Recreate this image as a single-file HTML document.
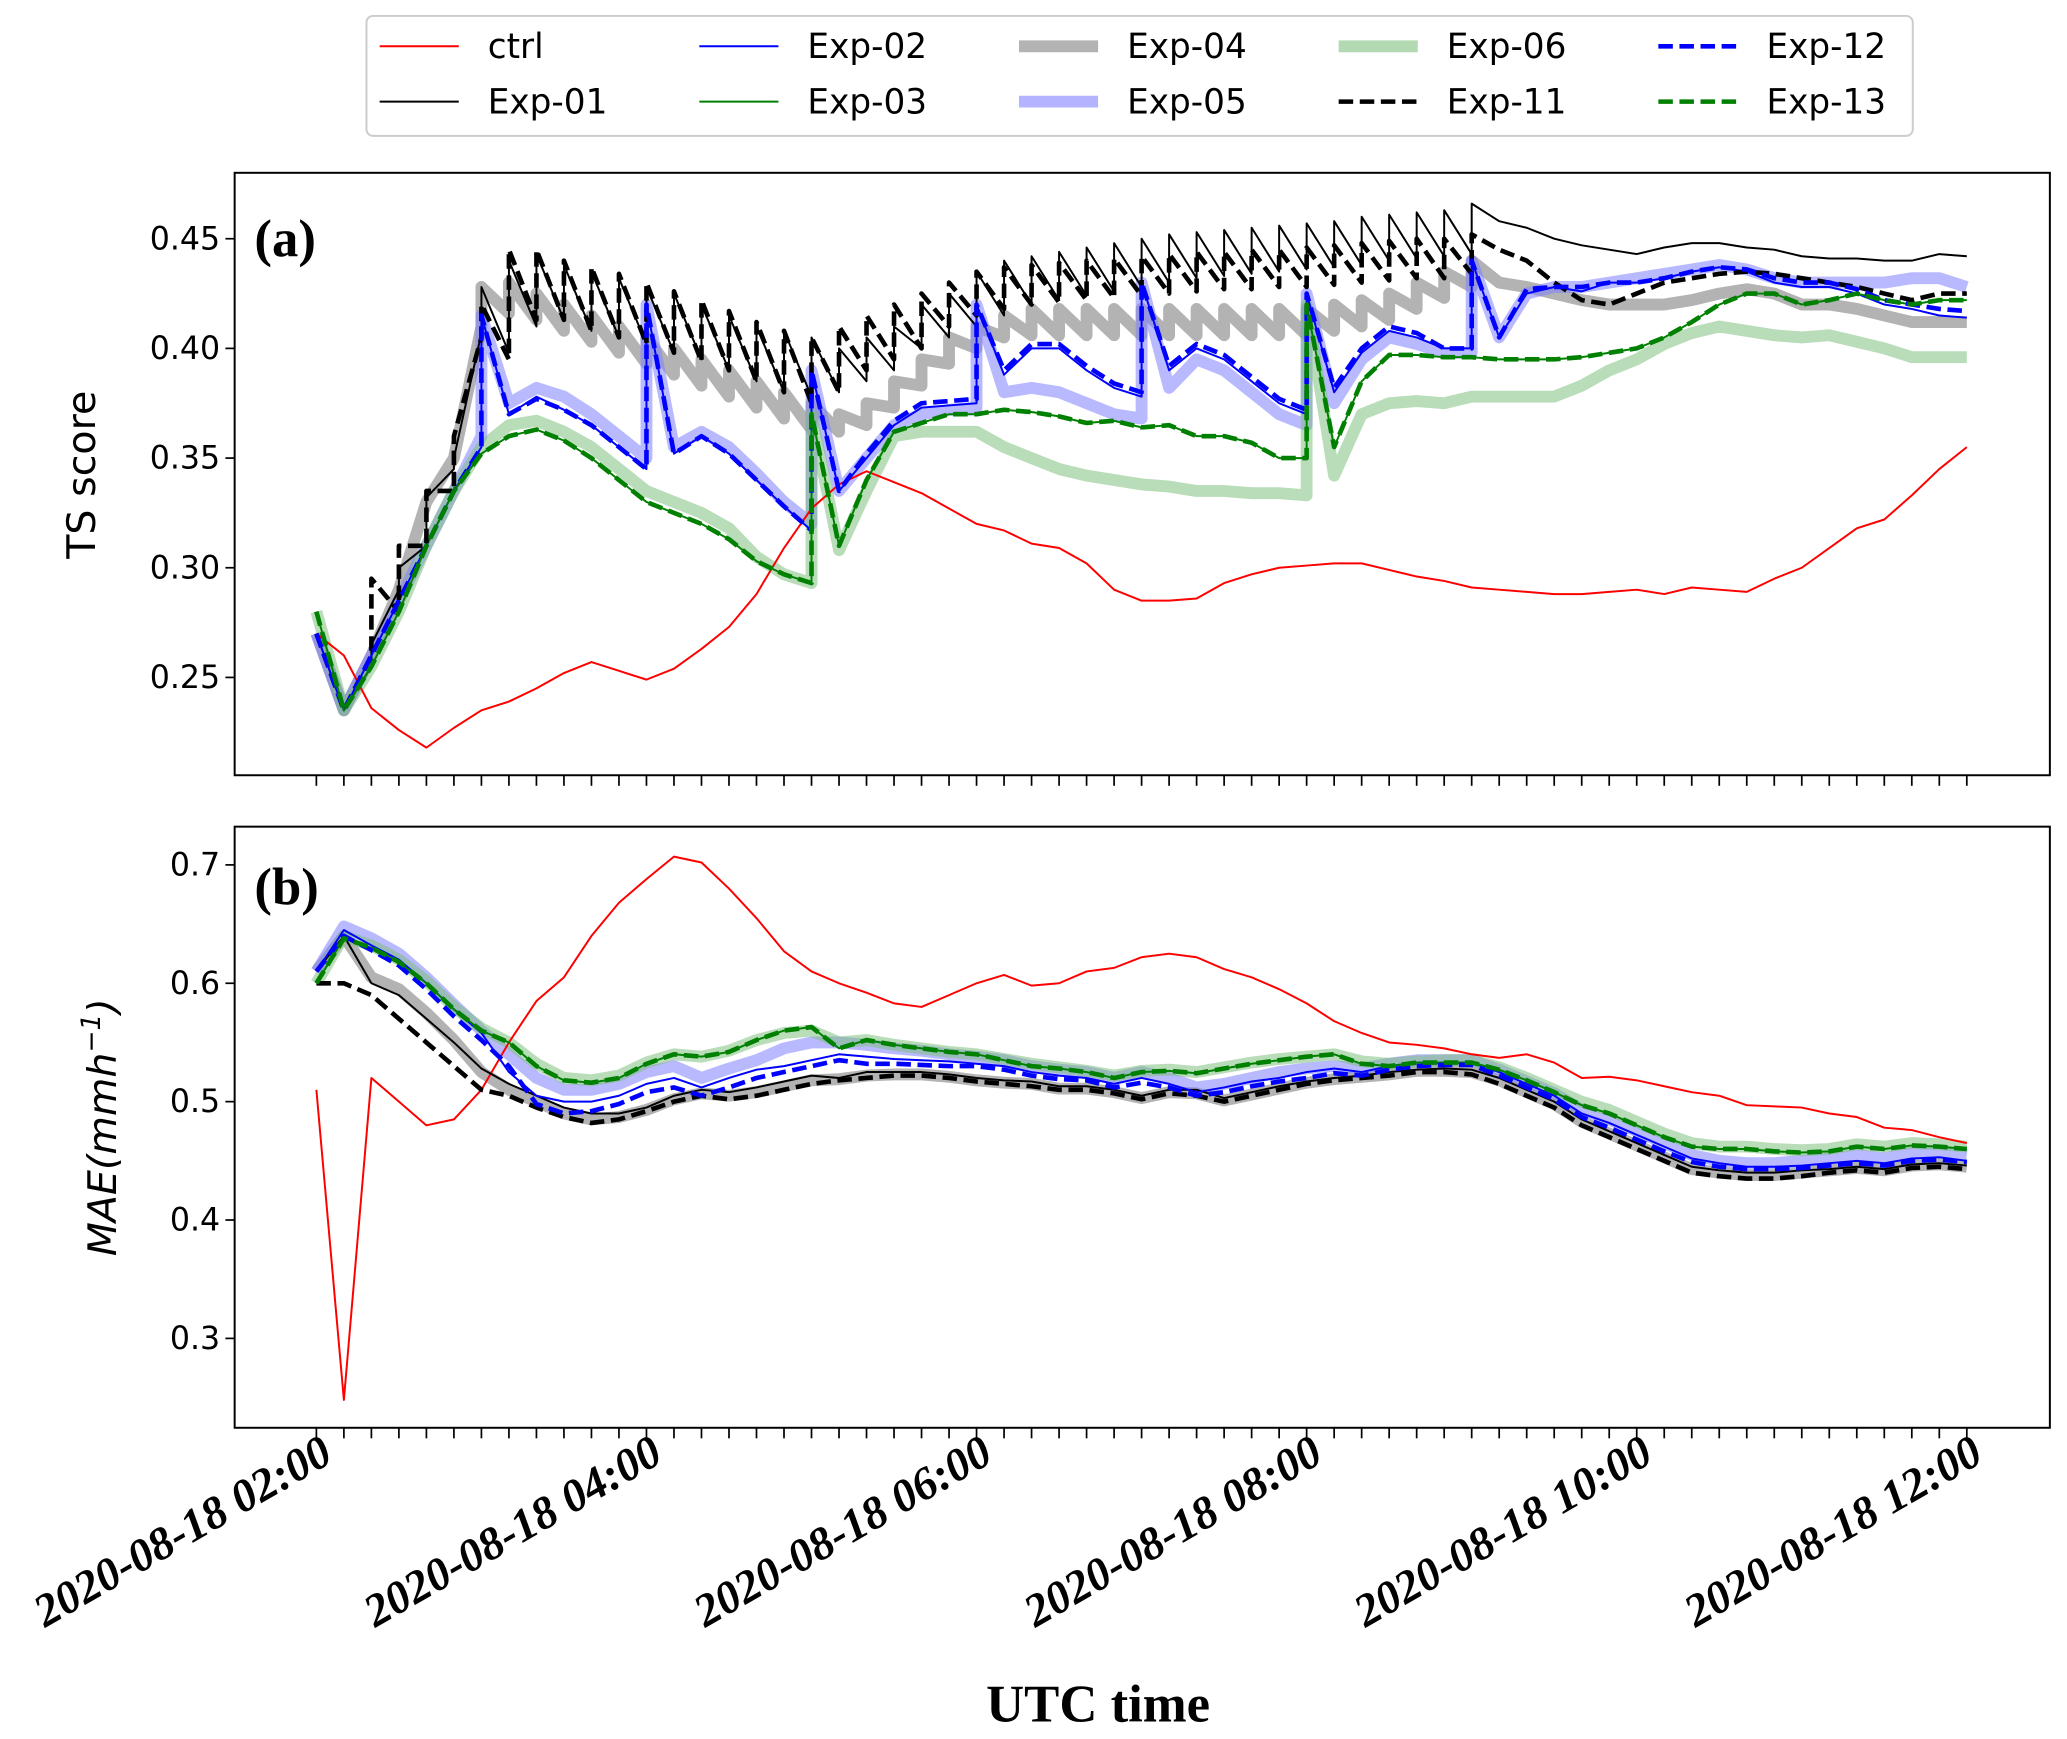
<!DOCTYPE html>
<html><head><meta charset="utf-8"><style>html,body{margin:0;padding:0;background:#fff}svg{display:block}</style></head>
<body>
<svg id="chart" width="2067" height="1739" viewBox="0 0 1568 1319" xmlns="http://www.w3.org/2000/svg" font-family="DejaVu Sans, Liberation Sans, sans-serif"></svg>
<script>
const timeLabels=["2020-08-18 02:00","2020-08-18 04:00","2020-08-18 06:00","2020-08-18 08:00","2020-08-18 10:00","2020-08-18 12:00"];
const tsTicks=[0.25,0.30,0.35,0.40,0.45];
const maeTicks=[0.3,0.4,0.5,0.6,0.7];
// Panel a: TS score (lo = value arriving at step, hi = value after update)
const aCtrl=[.27,.26,.236,.226,.218,.227,.235,.239,.245,.252,.257,.253,.249,.254,.263,.273,.288,.309,.327,.338,.344,.339,.334,.327,.320,.317,.311,.309,.302,.29,.285,.285,.286,.293,.297,.300,.301,.302,.302,.299,.296,.294,.291,.290,.289,.288,.288,.289,.290,.288,.291,.290,.289,.295,.300,.309,.318,.322,.333,.345,.355];
const a01hi=[.27,.235,.265,.30,.332,.35,.428,.44,.443,.438,.435,.432,.428,.425,.42,.415,.41,.408,.405,.40,.405,.41,.42,.425,.435,.44,.442,.444,.446,.448,.45,.452,.453,.454,.455,.456,.457,.458,.46,.461,.462,.463,.466,.458,.455,.45,.447,.445,.443,.446,.448,.448,.446,.445,.442,.441,.441,.44,.44,.443,.442];
const a01lo=[.27,.235,.255,.29,.31,.345,.407,.398,.41,.413,.408,.405,.402,.398,.395,.39,.385,.38,.378,.38,.385,.39,.40,.405,.41,.415,.42,.422,.424,.426,.428,.43,.432,.433,.434,.435,.436,.437,.438,.44,.441,.442,.443,.458,.455,.45,.447,.445,.443,.446,.448,.448,.446,.445,.442,.441,.441,.44,.44,.443,.442];
const a11hi=[.27,.235,.295,.31,.335,.36,.42,.445,.445,.44,.437,.434,.43,.426,.422,.417,.412,.408,.405,.41,.415,.42,.425,.43,.435,.437,.438,.439,.44,.441,.442,.443,.444,.444,.445,.445,.446,.447,.448,.449,.45,.45,.452,.445,.44,.43,.422,.42,.425,.43,.432,.434,.435,.434,.432,.43,.428,.425,.422,.425,.425];
const a11lo=[.27,.235,.26,.28,.31,.335,.405,.395,.413,.413,.408,.405,.402,.398,.394,.39,.385,.38,.375,.38,.39,.395,.40,.41,.415,.418,.42,.421,.422,.423,.424,.425,.426,.427,.427,.428,.428,.429,.43,.431,.432,.432,.434,.445,.44,.43,.422,.42,.425,.43,.432,.434,.435,.434,.432,.43,.428,.425,.422,.425,.425];
const a04hi=[.27,.235,.26,.29,.33,.35,.428,.43,.425,.42,.415,.41,.405,.40,.395,.39,.385,.38,.375,.37,.375,.385,.395,.405,.41,.415,.418,.418,.418,.418,.418,.418,.418,.418,.418,.418,.418,.42,.422,.425,.43,.435,.44,.43,.428,.425,.422,.42,.42,.42,.422,.425,.427,.425,.42,.42,.418,.415,.412,.412,.412];
const a04lo=[.27,.235,.26,.29,.33,.35,.41,.416,.413,.408,.403,.398,.393,.388,.383,.378,.373,.368,.363,.362,.365,.373,.383,.393,.40,.405,.406,.406,.406,.406,.406,.406,.406,.406,.406,.406,.406,.408,.41,.413,.418,.423,.428,.43,.428,.425,.422,.42,.42,.42,.422,.425,.427,.425,.42,.42,.418,.415,.412,.412,.412];
const a02lo=[.27,.235,.26,.285,.31,.335,.355,.37,.378,.372,.365,.355,.345,.352,.36,.352,.34,.328,.317,.335,.35,.365,.373,.374,.375,.388,.40,.40,.39,.382,.378,.39,.40,.395,.385,.375,.37,.38,.398,.408,.405,.40,.40,.405,.425,.428,.426,.43,.43,.432,.435,.437,.435,.43,.428,.428,.425,.42,.418,.415,.414];
const a02hi=[.27,.235,.26,.285,.31,.335,.415,.37,.378,.372,.365,.355,.42,.352,.36,.352,.34,.328,.39,.335,.35,.365,.373,.374,.42,.388,.40,.40,.39,.382,.43,.39,.40,.395,.385,.375,.425,.38,.398,.408,.405,.40,.44,.405,.425,.428,.426,.43,.43,.432,.435,.437,.435,.43,.428,.428,.425,.42,.418,.415,.414];
const a05lo=[.27,.235,.26,.285,.31,.335,.36,.375,.382,.378,.37,.36,.35,.355,.362,.355,.343,.33,.32,.335,.35,.365,.37,.372,.373,.38,.382,.38,.375,.37,.368,.382,.395,.39,.38,.37,.365,.375,.395,.405,.402,.398,.398,.405,.425,.428,.428,.43,.432,.434,.436,.438,.436,.432,.43,.43,.43,.43,.432,.432,.428];
const a05hi=[.27,.235,.26,.285,.31,.335,.415,.375,.382,.378,.37,.36,.42,.355,.362,.355,.343,.33,.39,.335,.35,.365,.37,.372,.42,.38,.382,.38,.375,.37,.43,.382,.395,.39,.38,.37,.425,.375,.395,.405,.402,.398,.44,.405,.425,.428,.428,.43,.432,.434,.436,.438,.436,.432,.43,.43,.43,.43,.432,.432,.428];
const a12lo=[.27,.235,.26,.285,.31,.335,.355,.37,.377,.372,.365,.355,.345,.352,.36,.352,.34,.328,.317,.335,.352,.367,.375,.376,.377,.39,.402,.402,.392,.384,.38,.392,.402,.397,.387,.377,.372,.382,.4,.41,.407,.40,.40,.405,.427,.428,.428,.43,.43,.432,.435,.437,.436,.432,.43,.43,.427,.422,.42,.418,.417];
const a12hi=[.27,.235,.26,.285,.31,.335,.415,.37,.377,.372,.365,.355,.42,.352,.36,.352,.34,.328,.39,.335,.352,.367,.375,.376,.42,.39,.402,.402,.392,.384,.43,.392,.402,.397,.387,.377,.425,.382,.4,.41,.407,.40,.44,.405,.427,.428,.428,.43,.43,.432,.435,.437,.436,.432,.43,.43,.427,.422,.42,.418,.417];
const a06lo=[.28,.235,.255,.28,.31,.335,.355,.365,.367,.362,.355,.345,.335,.33,.325,.318,.305,.297,.293,.308,.335,.36,.362,.362,.362,.355,.35,.345,.342,.34,.338,.337,.335,.335,.334,.334,.333,.342,.37,.375,.376,.375,.378,.378,.378,.378,.383,.39,.395,.402,.407,.41,.408,.406,.405,.406,.403,.40,.396,.396,.396];
const a06hi=[.28,.235,.255,.28,.31,.335,.355,.365,.367,.362,.355,.345,.335,.33,.325,.318,.305,.297,.37,.308,.335,.36,.362,.362,.362,.355,.35,.345,.342,.34,.338,.337,.335,.335,.334,.334,.42,.342,.37,.375,.376,.375,.378,.378,.378,.378,.383,.39,.395,.402,.407,.41,.408,.406,.405,.406,.403,.40,.396,.396,.396];
const a13lo=[.28,.235,.255,.28,.31,.335,.352,.36,.363,.358,.35,.34,.33,.325,.32,.313,.303,.297,.293,.31,.34,.362,.366,.37,.37,.372,.371,.369,.366,.367,.364,.365,.36,.36,.357,.35,.35,.355,.385,.397,.397,.396,.396,.395,.395,.395,.396,.398,.40,.405,.412,.42,.425,.425,.42,.422,.425,.422,.42,.422,.422];
const a13hi=[.28,.235,.255,.28,.31,.335,.352,.36,.363,.358,.35,.34,.33,.325,.32,.313,.303,.297,.37,.31,.34,.362,.366,.37,.37,.372,.371,.369,.366,.367,.364,.365,.36,.36,.357,.35,.42,.355,.385,.397,.397,.396,.396,.395,.395,.395,.396,.398,.40,.405,.412,.42,.425,.425,.42,.422,.425,.422,.42,.422,.422];
// Panel b: MAE
const bCtrl=[.51,.248,.52,.50,.48,.485,.51,.55,.585,.605,.64,.668,.688,.707,.702,.68,.655,.627,.61,.60,.592,.583,.58,.59,.60,.607,.598,.60,.61,.613,.622,.625,.622,.612,.605,.595,.583,.568,.558,.55,.548,.545,.54,.537,.54,.533,.52,.521,.518,.513,.508,.505,.497,.496,.495,.49,.487,.478,.476,.47,.465];
const b02=[.61,.645,.632,.62,.60,.578,.558,.525,.505,.50,.50,.505,.515,.52,.512,.52,.527,.53,.535,.54,.538,.536,.535,.534,.532,.53,.525,.522,.52,.515,.52,.515,.508,.512,.517,.52,.525,.528,.525,.53,.533,.533,.533,.525,.515,.505,.49,.482,.472,.462,.452,.448,.445,.445,.446,.448,.45,.448,.452,.453,.45];
const b05=[.61,.648,.638,.625,.605,.582,.56,.54,.52,.51,.51,.515,.525,.53,.52,.528,.535,.545,.55,.55,.548,.545,.543,.54,.538,.535,.53,.527,.525,.52,.525,.52,.512,.515,.52,.525,.528,.53,.528,.532,.535,.535,.535,.527,.517,.507,.493,.485,.475,.465,.455,.45,.448,.448,.45,.452,.455,.452,.457,.458,.455];
const b12=[.61,.64,.628,.615,.595,.572,.552,.53,.498,.49,.492,.498,.508,.512,.505,.512,.52,.525,.53,.535,.532,.532,.531,.53,.53,.527,.522,.519,.518,.512,.516,.512,.505,.508,.513,.517,.52,.524,.522,.527,.53,.531,.531,.522,.512,.502,.487,.478,.468,.458,.449,.445,.443,.443,.444,.446,.448,.446,.45,.451,.449];
const b06=[.60,.64,.632,.62,.602,.58,.562,.55,.532,.52,.518,.522,.533,.54,.538,.543,.552,.558,.56,.55,.552,.548,.545,.542,.54,.536,.532,.529,.526,.522,.526,.527,.525,.529,.533,.536,.538,.54,.534,.532,.534,.535,.535,.529,.52,.51,.5,.493,.483,.473,.465,.462,.462,.46,.459,.46,.464,.462,.465,.464,.462];
const b13=[.60,.638,.63,.618,.60,.578,.56,.55,.53,.518,.516,.52,.532,.54,.538,.542,.552,.56,.563,.545,.552,.548,.545,.542,.54,.535,.53,.528,.525,.52,.525,.526,.524,.528,.532,.535,.538,.54,.532,.53,.533,.533,.533,.527,.518,.508,.497,.49,.48,.47,.462,.46,.46,.458,.457,.458,.462,.46,.463,.462,.46];
const b01=[.61,.64,.60,.59,.57,.55,.528,.515,.505,.495,.49,.49,.495,.505,.51,.508,.512,.517,.522,.52,.525,.525,.525,.523,.52,.518,.517,.513,.513,.51,.505,.51,.51,.503,.508,.513,.517,.52,.522,.525,.527,.528,.527,.52,.51,.50,.485,.475,.465,.455,.445,.442,.44,.44,.442,.443,.445,.443,.447,.448,.446];
const b04=[.61,.64,.605,.595,.575,.552,.525,.51,.5,.49,.485,.487,.493,.502,.507,.505,.508,.513,.518,.519,.522,.523,.523,.521,.518,.516,.515,.511,.511,.508,.503,.508,.507,.501,.506,.511,.516,.519,.521,.523,.526,.526,.525,.518,.508,.498,.483,.473,.463,.453,.443,.44,.438,.438,.44,.442,.444,.442,.446,.447,.445];
const b11=[.60,.60,.59,.57,.55,.53,.51,.505,.495,.487,.482,.485,.492,.50,.505,.502,.505,.51,.515,.518,.52,.522,.522,.52,.517,.515,.513,.51,.51,.507,.502,.507,.505,.50,.505,.51,.515,.518,.52,.522,.525,.525,.523,.515,.505,.495,.48,.47,.46,.45,.44,.437,.435,.435,.437,.44,.442,.44,.444,.445,.443];

const NS='http://www.w3.org/2000/svg';
const svg=document.getElementById('chart');
function mk(tag,attrs,parent){const e=document.createElementNS(NS,tag);for(const k in attrs)e.setAttribute(k,attrs[k]);(parent||svg).appendChild(e);return e;}
const X0=240,X1=1492,N=60;
function xs(i){return X0+(X1-X0)*i/N;}
function ya(v){return 181+(0.45-v)/0.05*83.2;}
function yb(v){return 656+(0.7-v)/0.1*89.8;}

const leg=mk('rect',{x:278,y:12,width:1173,height:91,rx:5,fill:'#fff',stroke:'#ccc','stroke-width':1.5});


const legItems=[["ctrl","#ff0000",1.5,null,1],["Exp-01","#000",1.5,null,1],["Exp-02","#0000ff",1.5,null,1],["Exp-03","#008000",1.5,null,1],["Exp-04","#999",9,null,0.75],["Exp-05","#8080ff",9,null,0.6],["Exp-06","#80c080",9,null,0.6],["Exp-11","#000",3.5,"11,5",1],["Exp-12","#0000ff",3.5,"11,5",1],["Exp-13","#008000",3.5,"11,5",1]];
legItems.forEach((it,k)=>{const col=Math.floor(k/2),row=k%2;const lx=288+col*242.5,ly=35+row*42;
 const g=mk('g',{});
 
 
 const ln=mk('line',{x1:lx,y1:ly,x2:lx+60,y2:ly,stroke:it[1],'stroke-width':it[2],'stroke-opacity':it[4]},g);
 if(it[3])ln.setAttribute('stroke-dasharray',it[3]);
 const t=mk('text',{x:lx+82,y:ly+9,'font-size':26,fill:'#000'},g);t.textContent=it[0];});

function panel(top,bottom,name){
 const r=mk('rect',{x:178,y:top,width:1377,height:bottom-top,fill:'none',stroke:'#000','stroke-width':1.5});
 
 
 for(let i=0;i<=N;i++){const l=mk('line',{x1:xs(i),y1:bottom,x2:xs(i),y2:bottom+8,stroke:'#000','stroke-width':1.3});
  
  }
}
panel(131,588,'panel-a');panel(627,1083,'panel-b');
tsTicks.forEach(v=>{const y=ya(v);mk('line',{x1:171,y1:y,x2:178,y2:y,stroke:'#000','stroke-width':1.3});
 const t=mk('text',{x:167,y:y+8,'font-size':24,'text-anchor':'end'});t.textContent=v.toFixed(2);
 
 });
maeTicks.forEach(v=>{const y=yb(v);mk('line',{x1:171,y1:y,x2:178,y2:y,stroke:'#000','stroke-width':1.3});
 const t=mk('text',{x:167,y:y+8,'font-size':24,'text-anchor':'end'});t.textContent=v.toFixed(1);
 
 });
timeLabels.forEach((s,k)=>{const x=xs(k*12)+14,y=1108;
 const t=mk('text',{x:x,y:y,'font-size':35,'font-family':'Liberation Serif, serif','font-weight':'bold','font-style':'italic','text-anchor':'end',transform:`rotate(-30 ${x} ${y})`});
 t.textContent=s;
 
 });
let t=mk('text',{x:833,y:1306,'font-size':40,'font-family':'Liberation Serif, serif','font-weight':'bold','text-anchor':'middle'});t.textContent='UTC time';

t=mk('text',{x:72,y:360,'font-size':30,'text-anchor':'middle',transform:'rotate(-90 72 360)'});t.textContent='TS score';

t=mk('text',{x:88,y:855,'font-size':30,'font-style':'italic','text-anchor':'middle',transform:'rotate(-90 88 855)'});
t.innerHTML='MAE(mmh<tspan dy="-12" font-size="20">−1</tspan><tspan dy="12">)</tspan>';

t=mk('text',{x:193,y:194,'font-size':40,'font-family':'Liberation Serif, serif','font-weight':'bold'});t.textContent='(a)';

t=mk('text',{x:193,y:686,'font-size':40,'font-family':'Liberation Serif, serif','font-weight':'bold'});t.textContent='(b)';


function sawPts(lo,hi,yf){const p=[];for(let i=0;i<lo.length;i++){p.push(xs(i)+','+yf(lo[i]));if(hi[i]!==lo[i])p.push(xs(i)+','+yf(hi[i]));}return p.join(' ');}
function line(pts,color,w,dash,op,name){const e=mk('polyline',{points:pts,fill:'none',stroke:color,'stroke-width':w,'stroke-opacity':op,'stroke-linejoin':'round'});
 if(dash)e.setAttribute('stroke-dasharray',dash);
 
 }
const D="11,5";
line(sawPts(a04lo,a04hi,ya),'#999',9,null,0.75,'series-a-exp-04');
line(sawPts(a05lo,a05hi,ya),'#8080ff',9,null,0.55,'series-a-exp-05');
line(sawPts(a06lo,a06hi,ya),'#80c080',9,null,0.55,'series-a-exp-06');
line(sawPts(aCtrl,aCtrl,ya),'#ff0000',1.5,null,1,'series-a-ctrl');
line(sawPts(a01lo,a01hi,ya),'#000',1.5,null,1,'series-a-exp-01');
line(sawPts(a02lo,a02hi,ya),'#0000ff',1.5,null,1,'series-a-exp-02');
line(sawPts(a13lo,a13hi,ya),'#008000',1.5,null,1,'series-a-exp-03');
line(sawPts(a11lo,a11hi,ya),'#000',3.5,D,1,'series-a-exp-11');
line(sawPts(a12lo,a12hi,ya),'#0000ff',3.5,D,1,'series-a-exp-12');
line(sawPts(a13lo,a13hi,ya),'#008000',3.5,D,1,'series-a-exp-13');
line(sawPts(b04,b04,yb),'#999',9,null,0.75,'series-b-exp-04');
line(sawPts(b05,b05,yb),'#8080ff',9,null,0.55,'series-b-exp-05');
line(sawPts(b06,b06,yb),'#80c080',9,null,0.55,'series-b-exp-06');
line(sawPts(bCtrl,bCtrl,yb),'#ff0000',1.5,null,1,'series-b-ctrl');
line(sawPts(b01,b01,yb),'#000',1.5,null,1,'series-b-exp-01');
line(sawPts(b02,b02,yb),'#0000ff',1.5,null,1,'series-b-exp-02');
line(sawPts(b13,b13,yb),'#008000',1.5,null,1,'series-b-exp-03');
line(sawPts(b11,b11,yb),'#000',3.5,D,1,'series-b-exp-11');
line(sawPts(b12,b12,yb),'#0000ff',3.5,D,1,'series-b-exp-12');
line(sawPts(b13,b13,yb),'#008000',3.5,D,1,'series-b-exp-13');
</script>
</body></html>
